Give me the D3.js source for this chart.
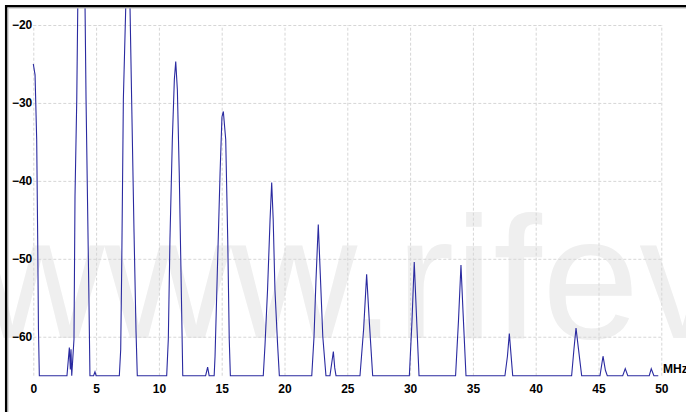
<!DOCTYPE html>
<html>
<head>
<meta charset="utf-8">
<script src="https://cdn.jsdelivr.net/npm/d3@7"></script>
<style>
  html, body { margin: 0; padding: 0; background: #ffffff; }
  svg { display: block; }
  .tick text { font-family: "Liberation Sans", Arial, sans-serif; font-weight: bold; font-size: 12px; fill: #000; }
</style>
</head>
<body>
<svg id="chart" width="686" height="412"></svg>
<script>
// ---- data ----
const freqMHz = [
  0, 0.14, 0.27, 0.35, 0.41, 0.48,
  2.68, 2.87, 2.95, 3.0, 3.06,
  3.24, 3.32, 3.46, 3.54, 3.83, 4.12, 4.2, 4.3, 4.43, 4.51,
  4.8, 4.91, 5.0,
  6.85, 6.96, 7.04, 7.17, 7.36, 7.53, 7.7, 7.83, 8.02, 8.18, 8.28,
  10.62, 10.75, 10.88, 11.07, 11.23, 11.34, 11.47, 11.62, 11.76, 11.9,
  13.72, 13.88, 14.0,
  14.4, 14.47, 14.65, 14.87, 15.02, 15.13, 15.32, 15.48, 15.6, 15.69,
  18.31, 18.45, 18.65, 18.85, 18.98, 19.1, 19.24, 19.45, 19.59,
  22.17, 22.35, 22.5, 22.69, 22.85, 23.05, 23.3,
  23.62, 23.89, 24.0, 24.1,
  26.01, 26.3, 26.54, 26.75, 27.02,
  29.94, 30.15, 30.33, 30.5, 30.71,
  33.62, 33.85, 34.05, 34.22, 34.45,
  37.55, 37.75, 37.9, 38.17,
  42.86, 43.05, 43.21, 43.4, 43.66,
  45.12, 45.36, 45.55, 45.7,
  46.93, 47.13, 47.33,
  49.04, 49.2, 49.41, 49.76
];
const levelDb = [
  -25, -26.4, -34.7, -47.5, -59, -65,
  -65, -61.4, -64.2, -61.6, -65,
  -60.3, -42.0, -29.6, -17.7, -8, -17.7, -29.6, -40.7, -55.2, -65,
  -65, -64.5, -65,
  -65, -61.6, -51, -29.6, -17.7, -9, -17.7, -29.6, -46.6, -59.4, -65,
  -65, -60.3, -47.5, -34.7, -27, -24.7, -28.3, -39, -51.8, -65,
  -65, -63.9, -65,
  -65, -62.5, -51.8, -39, -31.8, -31.1, -34.7, -47.5, -60.3, -65,
  -65, -61, -54, -45, -40.2, -45, -54, -61, -65,
  -65, -60, -53, -45.6, -52, -60, -65,
  -65, -61.9, -64, -65,
  -65, -59, -52, -58, -65,
  -65, -58, -50.4, -57, -65,
  -65, -58, -50.8, -57, -65,
  -65, -62.5, -59.6, -65,
  -65, -61.5, -58.9, -61.5, -65,
  -65, -62.5, -64.3, -65,
  -65, -64.1, -65,
  -65, -64.1, -65, -65
];
const xTickValues = [0, 5, 10, 15, 20, 25, 30, 35, 40, 45, 50];
const yTickValues = [-20, -30, -40, -50, -60];
const xUnitLabel = "MHz";
const watermarkText = "www.rifev";

// ---- layout ----
const svg = d3.select("#chart");
const x = d3.scaleLinear().domain([0, 50]).range([33.3, 661.3]);
const y = d3.scaleLinear().domain([-65, -20]).range([375.7, 25]);

// watermark
svg.append("text")
  .attr("x", -22).attr("y", 338)
  .attr("font-family", "Liberation Sans, Arial, sans-serif")
  .attr("font-size", 175)
  .attr("fill", "#efefef")
  .text(watermarkText);

// grid
const grid = svg.append("g");
grid.append("g")
  .attr("transform", `translate(0,${y(-65)})`)
  .call(d3.axisBottom(x).tickValues(xTickValues).tickSize(-(y(-65) - y(-20))).tickFormat(""))
  .call(g => g.select(".domain").remove())
  .call(g => g.selectAll("line").attr("stroke", "#d6d6d6").attr("stroke-dasharray", "3,2"));
grid.append("g")
  .attr("transform", `translate(${x(0)},0)`)
  .call(d3.axisLeft(y).tickValues(yTickValues).tickSize(-(x(50) - x(0))).tickFormat(""))
  .call(g => g.select(".domain").remove())
  .call(g => g.selectAll("line").attr("stroke", "#d6d6d6").attr("stroke-dasharray", "3,2"));

// axes labels
svg.append("g")
  .attr("transform", `translate(0,${y(-65)})`)
  .call(d3.axisBottom(x).tickValues(xTickValues).tickSize(0).tickPadding(9).tickFormat(d3.format("d")))
  .call(g => g.select(".domain").remove());
svg.append("g")
  .attr("transform", `translate(${x(0)},0)`)
  .call(d3.axisLeft(y).tickValues(yTickValues).tickSize(0).tickPadding(1).tickFormat(d3.format("d")))
  .call(g => g.select(".domain").remove());

svg.append("text")
  .attr("x", 663).attr("y", 373)
  .attr("font-family", "Liberation Sans, Arial, sans-serif")
  .attr("font-weight", "bold").attr("font-size", 12)
  .text(xUnitLabel);

// spectrum line
svg.append("clipPath").attr("id", "clip")
  .append("rect").attr("x", 0).attr("y", 8).attr("width", 686).attr("height", 404);
const pts = freqMHz.map((f, i) => [f, levelDb[i]]);
svg.append("path")
  .datum(pts)
  .attr("clip-path", "url(#clip)")
  .attr("fill", "none")
  .attr("stroke", "#2a2aa0")
  .attr("stroke-width", 1.1)
  .attr("d", d3.line().x(d => x(d[0])).y(d => y(d[1])));

// frame (top and left borders)
svg.append("line").attr("x1", 5).attr("x2", 686).attr("y1", 6.2).attr("y2", 6.2)
  .attr("stroke", "#000").attr("stroke-width", 2.5);
svg.append("line").attr("x1", 6.2).attr("x2", 6.2).attr("y1", 5).attr("y2", 412)
  .attr("stroke", "#000").attr("stroke-width", 2.5);
svg.append("line").attr("x1", 7.5).attr("x2", 686).attr("y1", 8).attr("y2", 8)
  .attr("stroke", "#bbbbbb").attr("stroke-width", 1);
svg.append("line").attr("x1", 8).attr("x2", 8).attr("y1", 7.5).attr("y2", 412)
  .attr("stroke", "#bbbbbb").attr("stroke-width", 1);
</script>
</body>
</html>
